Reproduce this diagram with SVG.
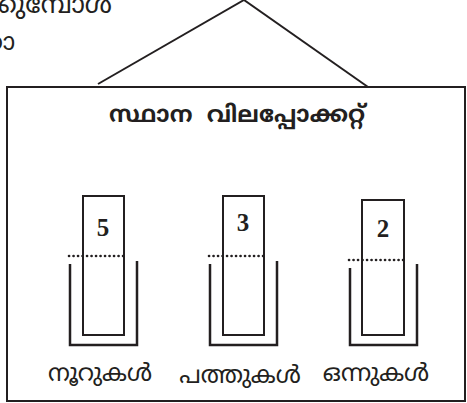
<svg xmlns="http://www.w3.org/2000/svg" width="467" height="403" viewBox="0 0 467 403">
<style>
.ln{stroke:#231f20;stroke-width:2;fill:none}
.u{stroke:#231f20;stroke-width:2.5;fill:none}
.card{stroke:#231f20;stroke-width:2;fill:#fff}
.dot{stroke:#231f20;stroke-width:2.6;stroke-dasharray:0.1 4.4;stroke-linecap:round;fill:none}
.ml{font-family:"Noto Sans Malayalam","Noto Sans",sans-serif;fill:#231f20}
.num{font-family:"Liberation Serif",serif;font-weight:bold;font-size:25px;fill:#231f20;text-anchor:middle}
.lbl{font-size:24px;text-anchor:middle}
</style>
<rect width="467" height="403" fill="#fff"/>
<g id="para">
<text class="ml" x="112" y="13" font-size="26" text-anchor="end">ക്കുമ്പോൾ</text>
<text class="ml" x="15" y="50" font-size="24" text-anchor="end">താ</text>
</g>
<g id="connectors">
<line class="ln" x1="98" y1="84" x2="244" y2="0"/>
<line class="ln" x1="244" y1="0" x2="368" y2="87"/>
</g>
<g id="pocket">
<rect class="ln" x="7" y="87" width="458" height="314"/>
<text class="ml" x="237" y="122" font-size="23" font-weight="bold" text-anchor="middle">സ്ഥാന&#160; വിലപ്പോക്കറ്റ്</text>
</g>
<g id="hundreds">
<rect class="card" x="83" y="196" width="41" height="139"/>
<text class="num" x="103" y="236">5</text>
<line class="dot" x1="69" y1="256" x2="124" y2="256"/>
<path class="u" d="M70 264V345H137V261"/>
<text class="ml lbl" x="100" y="381">നൂറുകൾ</text>
</g>
<g id="tens">
<rect class="card" x="223" y="196" width="41" height="139"/>
<text class="num" x="243" y="231">3</text>
<line class="dot" x1="209" y1="256" x2="264" y2="256"/>
<path class="u" d="M210 264V345H277V261"/>
<text class="ml lbl" x="240" y="383">പത്തുകൾ</text>
</g>
<g id="ones">
<rect class="card" x="362" y="200" width="42" height="135"/>
<text class="num" x="383" y="237">2</text>
<line class="dot" x1="349" y1="260" x2="404" y2="260"/>
<path class="u" d="M350 268V345H417V264"/>
<text class="ml lbl" x="376" y="381">ഒന്നുകൾ</text>
</g>
</svg>
